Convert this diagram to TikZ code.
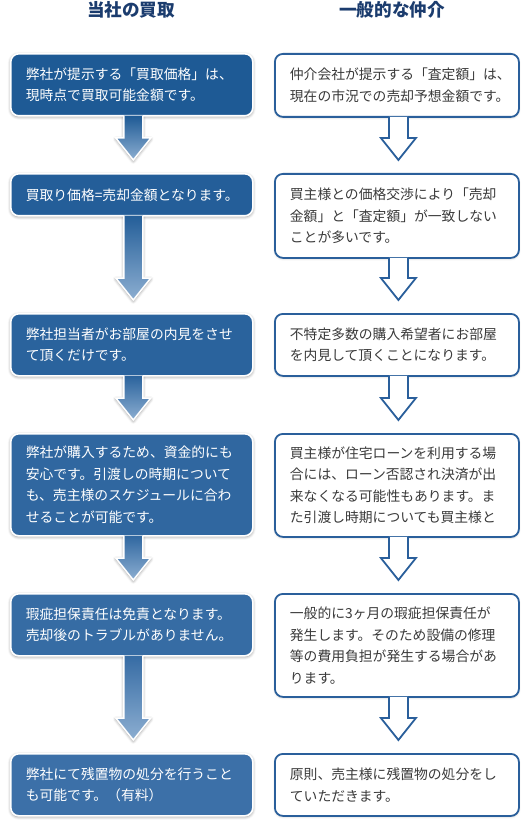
\documentclass[tikz,border=0pt]{standalone}
\usepackage{fontspec}
\setmainfont{Noto Sans CJK JP}
\usetikzlibrary{calc,shadows.blur}
\pgfdeclarelayer{back}
\pgfsetlayers{back,main}

\definecolor{headblue}{HTML}{1B3C6E}
\definecolor{darkbox}{HTML}{1E5A95}
\definecolor{lightbox}{HTML}{3C70A8}
\definecolor{tipblue}{HTML}{8CAED1}
\definecolor{agentblue}{HTML}{2A5F9B}
\definecolor{bodygray}{HTML}{3A3A3A}

\tikzset{
  headtext/.style={font=\fontsize{17.6pt}{20pt}\selectfont\bfseries,text=headblue,inner sep=0pt},
  anybox/.style={rounded corners=8pt,anchor=north west,inner xsep=15pt,inner ysep=0pt,align=left,
    font=\fontsize{13.8pt}{21.5pt}\selectfont},
  ourbox/.style={anybox,draw=white,line width=1.6pt,text=white,minimum width=242pt,text width=212pt,
    blur shadow={shadow xshift=0pt,shadow yshift=-1pt,shadow blur radius=3pt,shadow opacity=45}},
  agentbox/.style={anybox,draw=agentblue,fill=white,line width=1.8pt,text=bodygray,minimum width=244pt,text width=214pt,
    blur shadow={shadow xshift=0pt,shadow yshift=-1pt,shadow blur radius=2pt,shadow opacity=20}},
  arrowshadow/.style={blur shadow={shadow xshift=0pt,shadow yshift=-1pt,shadow blur radius=3pt,shadow opacity=45}},
  ourline/.style={draw=white,line width=1.5pt,line join=miter},
  agentline/.style={draw=agentblue,line width=1.8pt,line join=miter}
}

% block arrow from the bottom of #1 towards the top of #2
\newcommand\flowdown[4]{%
  \path let \p1=($(#1.south)+(1.5pt,1pt)$), \p2=($(#2.north)+(0,13pt)$) in
    coordinate (#1-s1) at (\x1-9.5pt,\y1)
    coordinate (#1-s2) at (\x1-9.5pt,\y2+22pt)
    coordinate (#1-h1) at (\x1-17.5pt,\y2+22pt)
    coordinate (#1-tip) at (\x1,\y2)
    coordinate (#1-h2) at (\x1+17.5pt,\y2+22pt)
    coordinate (#1-s3) at (\x1+9.5pt,\y2+22pt)
    coordinate (#1-s4) at (\x1+9.5pt,\y1);
  \begin{pgfonlayer}{back}
    \path[#3] (#1-s1) -- (#1-s2) -- (#1-h1) -- (#1-tip) -- (#1-h2) -- (#1-s3) -- (#1-s4) -- cycle;
  \end{pgfonlayer}
  \path[#4] (#1-s1) -- (#1-s2) -- (#1-h1) -- (#1-tip) -- (#1-h2) -- (#1-s3) -- (#1-s4) -- cycle;
}

\begin{document}
\begin{tikzpicture}[x=1pt,y=-1pt]
\useasboundingbox (0,0) rectangle (528,826);
\node[headtext] (hl) at (131,10) {当社の買取};
\node[headtext] (hr) at (392,10) {一般的な仲介};

\foreach \i/\top/\lh/\rh/\ltxt/\rtxt in {
  1/53/62/63/{弊社が提示する「買取価格」は、\\現時点で買取可能金額です。}/{仲介会社が提示する「査定額」は、\\現在の市況での売却予想金額です。},
  2/173/42/84/{買取り価格=売却金額となります。}/{買主様との価格交渉により「売却\\金額」と「査定額」が一致しない\\ことが多いです。},
  3/313/62/62/{弊社担当者がお部屋の内見をさせ\\て頂くだけです。}/{不特定多数の購入希望者にお部屋\\を内見して頂くことになります。},
  4/433/102/103/{弊社が購入するため、資金的にも\\安心です。引渡しの時期について\\も、売主様のスケジュールに合わ\\せることが可能です。}/{買主様が住宅ローンを利用する場\\合には、ローン否認され決済が出\\来なくなる可能性もあります。ま\\た引渡し時期についても買主様と},
  5/593/62/103/{瑕疵担保責任は免責となります。\\売却後のトラブルがありません。}/{一般的に3ヶ月の瑕疵担保責任が\\発生します。そのため設備の修理\\等の費用負担が発生する場合があ\\ります。},
  6/753/62/62/{弊社にて残置物の処分を行うこと\\も可能です。（有料）}/{原則、売主様に残置物の処分をし\\ていただきます。}}{
  \pgfmathtruncatemacro\p{(\i-1)*20}
  \node[ourbox,fill=lightbox!\p!darkbox,minimum height=\lh pt] (l\i) at (10,\top) {\ltxt};
  \node[agentbox,minimum height=\rh pt] (r\i) at (274,\top) {\rtxt};
}

\foreach \i in {1,...,5}{
  \pgfmathtruncatemacro\j{\i+1}
  \pgfmathtruncatemacro\p{(\i-1)*20}
  \flowdown{l\i}{l\j}{arrowshadow}{top color=lightbox!\p!darkbox,bottom color=tipblue}
  \draw[ourline] (l\i-s1) -- (l\i-s2) -- (l\i-h1) -- (l\i-tip) -- (l\i-h2) -- (l\i-s3) -- (l\i-s4);
  \flowdown{r\i}{r\j}{}{fill=white}
  \draw[agentline] (r\i-s1) -- (r\i-s2) -- (r\i-h1) -- (r\i-tip) -- (r\i-h2) -- (r\i-s3) -- (r\i-s4);
}
\end{tikzpicture}
\end{document}
